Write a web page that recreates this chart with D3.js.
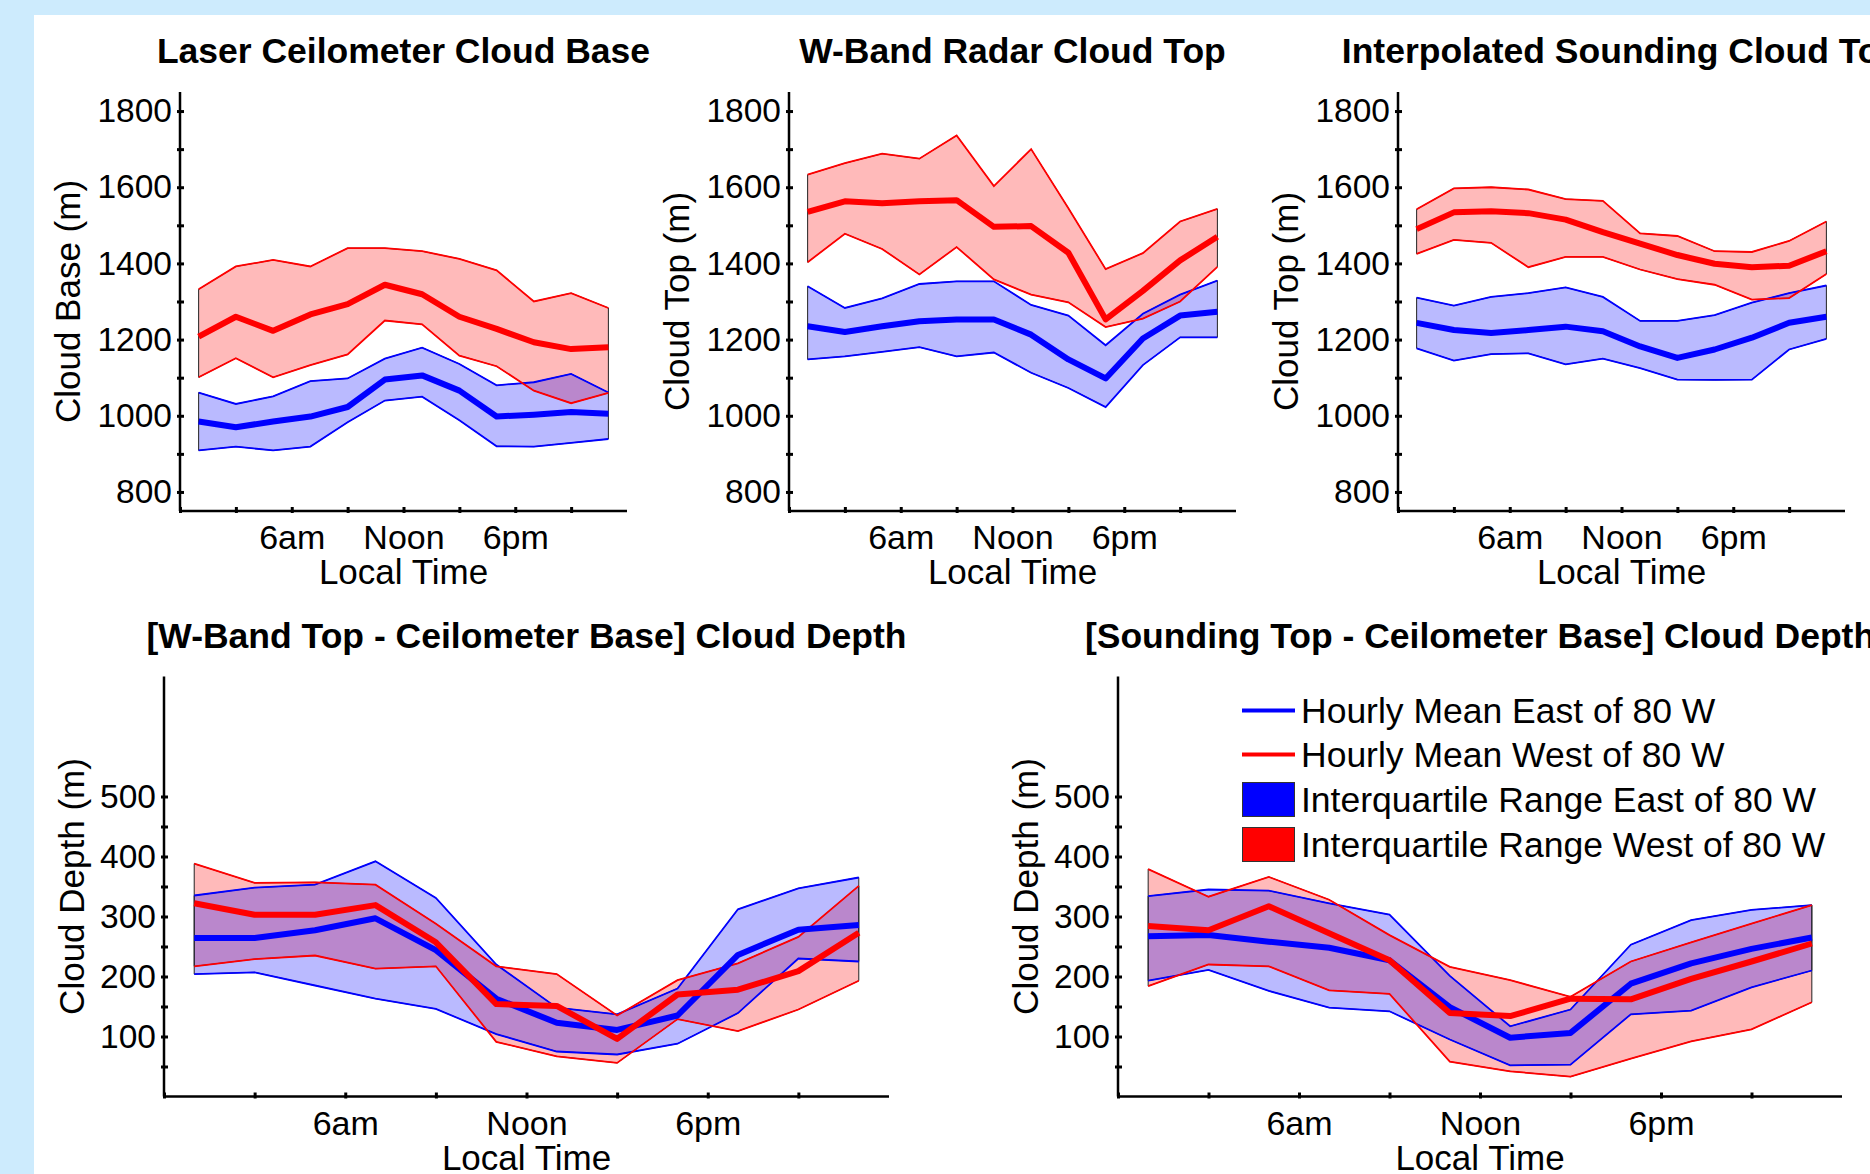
<!DOCTYPE html>
<html>
<head>
<meta charset="utf-8">
<script src="https://cdn.jsdelivr.net/npm/d3@7"></script>
<style>
  html, body { margin: 0; padding: 0; background: #cdebfd; }
  svg { display: block; }
</style>
</head>
<body>
<svg id="chart" width="1870" height="1174"></svg>
<script>
// local time of each 2-hour bin centre
const hours = [1, 3, 5, 7, 9, 11, 13, 15, 17, 19, 21, 23];
const xTicks = [0, 3, 6, 9, 12, 15, 18, 21];
const xTickText = { 6: '6am', 12: 'Noon', 18: '6pm' };

const heightTicks = [800, 900, 1000, 1100, 1200, 1300, 1400, 1500, 1600, 1700, 1800];
const heightLabels = [800, 1000, 1200, 1400, 1600, 1800];
const depthTicks = [50, 100, 150, 200, 250, 300, 350, 400, 450, 500];
const depthLabels = [100, 200, 300, 400, 500];

// Laser ceilometer cloud base
const baseEastQ3 = [1061, 1031, 1051, 1091, 1098, 1150, 1179, 1136, 1080, 1088, 1110, 1061];
const baseEastMean = [985, 970, 985, 998, 1023, 1095, 1106, 1066, 998, 1003, 1010, 1005];
const baseEastQ1 = [909, 919, 909, 919, 983, 1040, 1050, 988, 920, 919, 929, 939];
const baseWestQ3 = [1332, 1392, 1409, 1392, 1440, 1440, 1432, 1412, 1382, 1300, 1322, 1283];
const baseWestMean = [1208, 1260, 1223, 1266, 1293, 1344, 1319, 1260, 1228, 1193, 1175, 1180];
const baseWestQ1 = [1101, 1151, 1101, 1133, 1161, 1250, 1240, 1158, 1130, 1066, 1033, 1060];

// W-band radar cloud top
const radarEastQ3 = [1340, 1283, 1308, 1346, 1353, 1353, 1291, 1263, 1185, 1268, 1318, 1355];
const radarEastMean = [1235, 1220, 1235, 1248, 1253, 1253, 1213, 1148, 1098, 1203, 1263, 1273];
const radarEastQ1 = [1148, 1156, 1168, 1180, 1156, 1166, 1113, 1073, 1023, 1133, 1206, 1206];
const radarWestQ3 = [1633, 1663, 1688, 1675, 1736, 1603, 1700, 1545, 1385, 1427, 1510, 1543];
const radarWestMean = [1535, 1563, 1558, 1563, 1566, 1496, 1498, 1428, 1253, 1328, 1408, 1470];
const radarWestQ1 = [1403, 1478, 1438, 1371, 1443, 1358, 1318, 1298, 1233, 1255, 1300, 1391];

// interpolated sounding cloud top
const soundEastQ3 = [1310, 1289, 1312, 1322, 1337, 1312, 1249, 1249, 1264, 1297, 1322, 1342];
const soundEastMean = [1244, 1225, 1217, 1225, 1234, 1222, 1182, 1152, 1174, 1205, 1244, 1260];
const soundEastQ1 = [1177, 1145, 1162, 1164, 1135, 1150, 1125, 1095, 1094, 1095, 1174, 1202];
const soundWestQ3 = [1542, 1597, 1600, 1594, 1569, 1564, 1479, 1472, 1432, 1430, 1459, 1510];
const soundWestMean = [1490, 1534, 1537, 1532, 1515, 1482, 1452, 1422, 1399, 1390, 1394, 1432];
const soundWestQ1 = [1425, 1462, 1454, 1390, 1417, 1417, 1384, 1359, 1344, 1305, 1309, 1372];

// W-band top - ceilometer base depth
const wDepthEastQ3 = [335, 348, 353, 392, 331, 220, 148, 137, 180, 312, 347, 365];
const wDepthEastMean = [264, 264, 277, 297, 244, 163, 123, 111, 135, 236, 278, 286];
const wDepthEastQ1 = [204, 207, 185, 163, 146, 104, 75, 70, 88, 139, 230, 225];
const wDepthWestQ3 = [388, 356, 357, 353, 288, 217, 204, 135, 194, 222, 266, 351];
const wDepthWestMean = [322, 303, 303, 319, 257, 154, 151, 96, 170, 178, 209, 273];
const wDepthWestQ1 = [217, 229, 235, 213, 217, 91, 67, 56, 129, 109, 145, 193];

// sounding top - ceilometer base depth
const sDepthEastQ3 = [334, 345, 343, 322, 303, 201, 117, 145, 253, 294, 311, 319];
const sDepthEastMean = [267, 269, 258, 248, 227, 149, 98, 106, 188, 222, 246, 265];
const sDepthEastQ1 = [193, 211, 176, 148, 142, 95, 52, 53, 137, 143, 182, 210];
const sDepthWestQ3 = [379, 333, 366, 328, 269, 216, 194, 166, 225, 257, 288, 319];
const sDepthWestMean = [284, 277, 317, 272, 227, 139, 134, 163, 162, 196, 225, 255];
const sDepthWestQ1 = [184, 220, 217, 177, 171, 58, 42, 33, 63, 92, 112, 157];

const legendItems = [
  { label: 'Hourly Mean East of 80 W', color: '#0000ff', kind: 'line' },
  { label: 'Hourly Mean West of 80 W', color: '#ff0000', kind: 'line' },
  { label: 'Interquartile Range East of 80 W', color: '#0000ff', kind: 'box' },
  { label: 'Interquartile Range West of 80 W', color: '#ff0000', kind: 'box' }
];

const FONT = '"Liberation Sans", Arial, Helvetica, sans-serif';
const EAST = '#0000ff';
const WEST = '#ff0000';

const svg = d3.select('#chart');
svg.append('rect').attr('width', 1870).attr('height', 1174).attr('fill', '#cdebfd');
svg.append('rect').attr('x', 34).attr('y', 15).attr('width', 1836).attr('height', 1159).attr('fill', '#fff');

const toRows = (q1, mean, q3) => hours.map((h, i) => ({ h, q1: q1[i], mean: mean[i], q3: q3[i] }));

const panels = [
  { title: 'Laser Ceilometer Cloud Base', ylabel: 'Cloud Base (m)', x0: 180, x1: 627, top: 92, bottom: 511,
    domain: [750, 1850], ticks: heightTicks, labels: heightLabels, labelOff: -100,
    east: toRows(baseEastQ1, baseEastMean, baseEastQ3), west: toRows(baseWestQ1, baseWestMean, baseWestQ3) },
  { title: 'W-Band Radar Cloud Top', ylabel: 'Cloud Top (m)', x0: 789, x1: 1236, top: 92, bottom: 511,
    domain: [750, 1850], ticks: heightTicks, labels: heightLabels, labelOff: -100,
    east: toRows(radarEastQ1, radarEastMean, radarEastQ3), west: toRows(radarWestQ1, radarWestMean, radarWestQ3) },
  { title: 'Interpolated Sounding Cloud Top', ylabel: 'Cloud Top (m)', x0: 1398, x1: 1845, top: 92, bottom: 511,
    domain: [750, 1850], ticks: heightTicks, labels: heightLabels, labelOff: -100,
    east: toRows(soundEastQ1, soundEastMean, soundEastQ3), west: toRows(soundWestQ1, soundWestMean, soundWestQ3) },
  { title: '[W-Band Top - Ceilometer Base] Cloud Depth', ylabel: 'Cloud Depth (m)', x0: 164, x1: 889, top: 676.5, bottom: 1096.5,
    domain: [0, 700], ticks: depthTicks, labels: depthLabels, labelOff: -80,
    east: toRows(wDepthEastQ1, wDepthEastMean, wDepthEastQ3), west: toRows(wDepthWestQ1, wDepthWestMean, wDepthWestQ3) },
  { title: '[Sounding Top - Ceilometer Base] Cloud Depth', ylabel: 'Cloud Depth (m)', x0: 1118, x1: 1842, top: 676.5, bottom: 1096.5,
    domain: [0, 700], ticks: depthTicks, labels: depthLabels, labelOff: -80, legend: true,
    east: toRows(sDepthEastQ1, sDepthEastMean, sDepthEastQ3), west: toRows(sDepthWestQ1, sDepthWestMean, sDepthWestQ3) }
];

panels.forEach(p => drawPanel(p));

function drawPanel(p) {
  const x = d3.scaleLinear().domain([0, 24]).range([p.x0, p.x1]);
  const y = d3.scaleLinear().domain(p.domain).range([p.bottom, p.top]);
  const g = svg.append('g');

  const band = d3.area().x(d => x(d.h)).y0(d => y(d.q1)).y1(d => y(d.q3));
  const edge = key => d3.line().x(d => x(d.h)).y(d => y(d[key]));

  // west patch underneath, east patch on top
  [[p.west, WEST], [p.east, EAST]].forEach(([rows, c]) => {
    g.append('path').attr('d', band(rows))
      .attr('fill', c).attr('fill-opacity', 0.27)
      .attr('stroke', '#222').attr('stroke-width', 1);
  });
  [[p.east, EAST], [p.west, WEST]].forEach(([rows, c]) => {
    ['q1', 'q3'].forEach(k => {
      g.append('path').attr('d', edge(k)(rows))
        .attr('fill', 'none').attr('stroke', c).attr('stroke-width', 1.8);
    });
  });
  [[p.east, EAST], [p.west, WEST]].forEach(([rows, c]) => {
    g.append('path').attr('d', edge('mean')(rows))
      .attr('fill', 'none').attr('stroke', c).attr('stroke-width', 6)
      .attr('stroke-linejoin', 'round');
  });

  // y axis
  const yAxis = g.append('g').attr('transform', `translate(${p.x0},0)`)
    .call(d3.axisLeft(y).tickValues(p.ticks).tickSizeInner(3).tickSizeOuter(0).tickPadding(5)
      .tickFormat(d => p.labels.includes(d) ? d : ''));
  yAxis.select('.domain').attr('stroke', '#000').attr('stroke-width', 2.5)
    .attr('d', `M0,${p.top}V${p.bottom}`);
  yAxis.selectAll('.tick line').attr('x1', -3).attr('x2', 4).attr('stroke-width', 3);
  yAxis.selectAll('.tick text').attr('x', -8)
    .style('font-family', FONT).style('font-size', '33.5px').attr('fill', '#000');

  // x axis
  const xAxis = g.append('g').attr('transform', `translate(0,${p.bottom})`)
    .call(d3.axisBottom(x).tickValues(xTicks).tickSizeOuter(0).tickFormat(d => xTickText[d] || ''));
  xAxis.select('.domain').attr('stroke', '#000').attr('stroke-width', 2.5)
    .attr('d', `M${p.x0},0H${p.x1}`);
  xAxis.selectAll('.tick line').attr('y1', -4).attr('y2', 2).attr('stroke-width', 3);
  xAxis.selectAll('.tick text').attr('y', 38).attr('dy', null)
    .style('font-family', FONT).style('font-size', '34px').attr('fill', '#000');

  const cx = (p.x0 + p.x1) / 2;
  g.append('text').attr('x', cx).attr('y', p.bottom + 73)
    .attr('text-anchor', 'middle').style('font-family', FONT).style('font-size', '35px')
    .text('Local Time');

  g.append('text')
    .attr('transform', `translate(${p.x0 + p.labelOff},${(p.top + p.bottom) / 2}) rotate(-90)`)
    .attr('text-anchor', 'middle').style('font-family', FONT).style('font-size', '35px')
    .text(p.ylabel);

  g.append('text').attr('x', cx).attr('y', p.top - 29)
    .attr('text-anchor', 'middle').style('font-family', FONT).style('font-size', '35.5px')
    .style('font-weight', 'bold').text(p.title);

  if (p.legend) addLegend(g, p.x0, p.top);
}

function addLegend(g, left, top) {
  const rowY = [34, 78, 123, 168];
  const leg = g.append('g').attr('transform', `translate(${left + 124},${top})`);
  legendItems.forEach((item, i) => {
    const cy = rowY[i];
    if (item.kind === 'line') {
      leg.append('line').attr('x1', 0).attr('x2', 53).attr('y1', cy).attr('y2', cy)
        .attr('stroke', item.color).attr('stroke-width', 4);
    } else {
      leg.append('rect').attr('x', 0.5).attr('y', cy - 17).attr('width', 52).attr('height', 34)
        .attr('fill', item.color).attr('stroke', '#333').attr('stroke-width', 1);
    }
    leg.append('text').attr('x', 59).attr('y', cy + 12)
      .style('font-family', FONT).style('font-size', '35.5px').text(item.label);
  });
}
</script>
</body>
</html>
